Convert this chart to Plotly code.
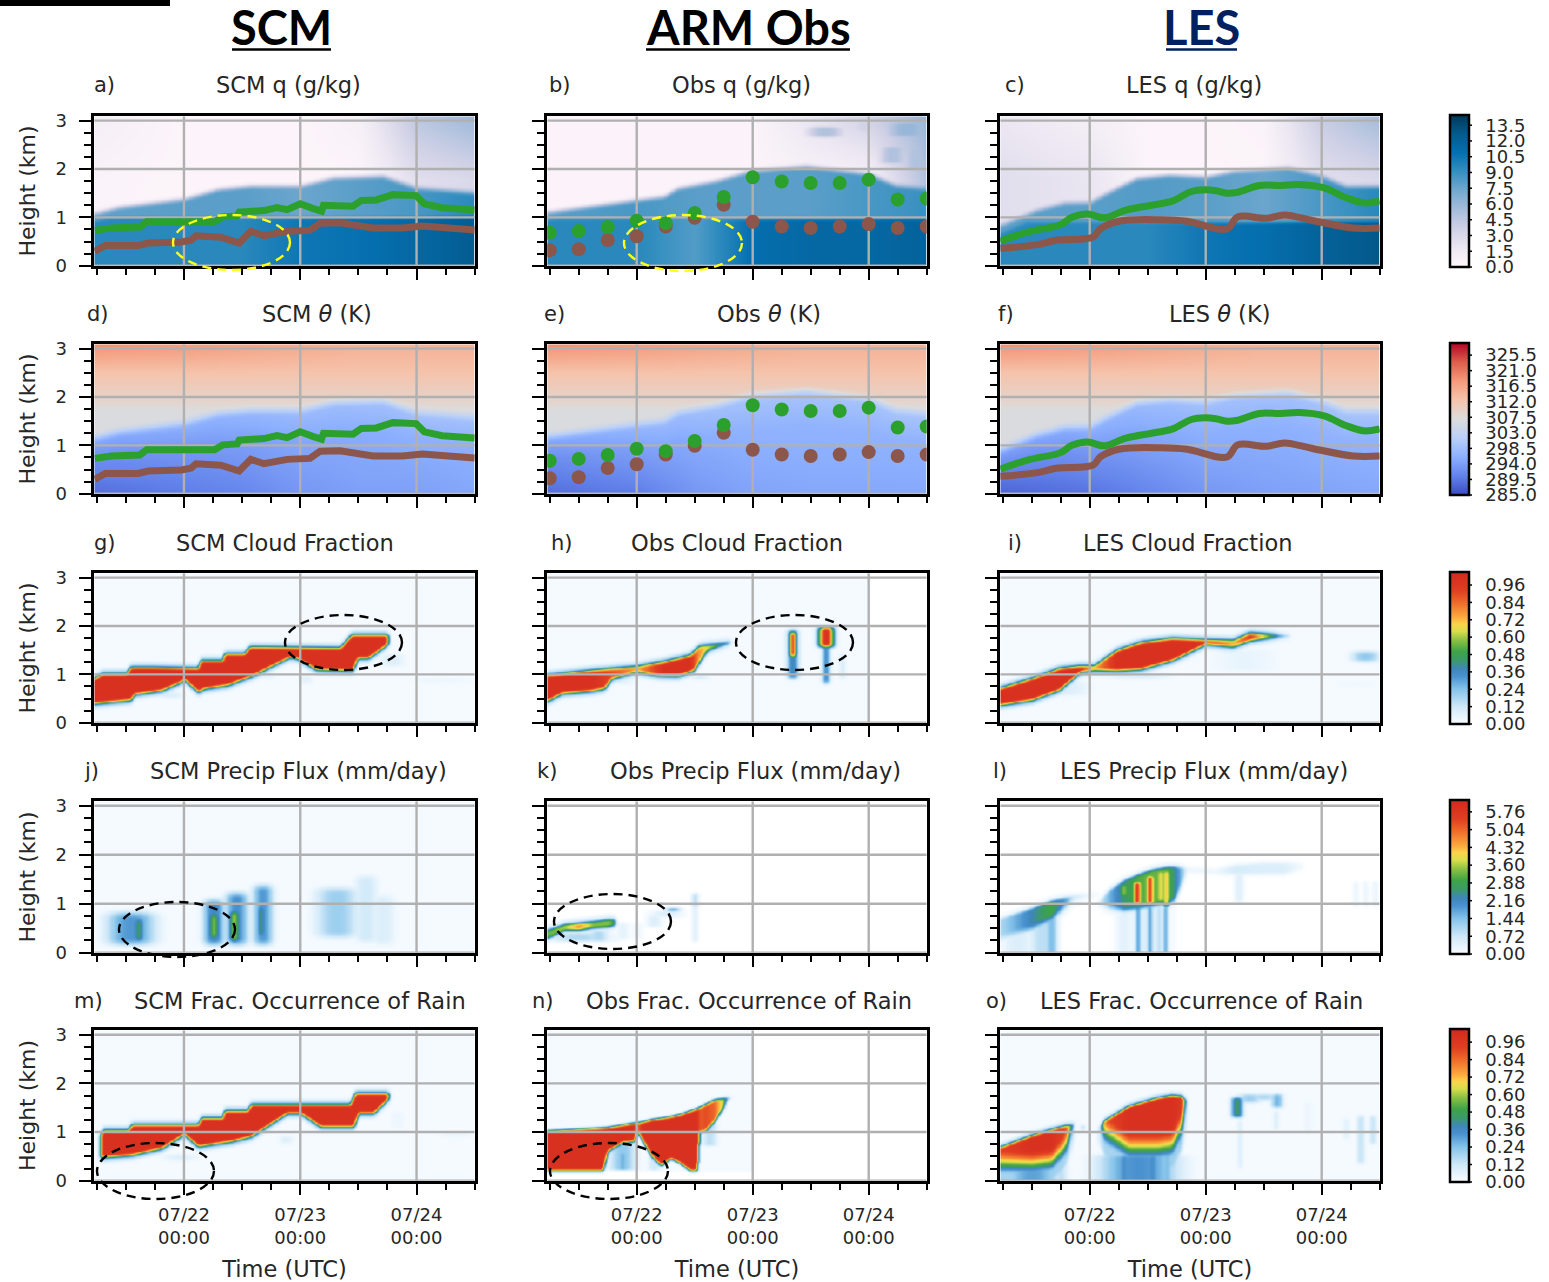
import numpy as np
import plotly.graph_objects as go

W, H = 1549, 1282

# ---------- Data (time: hours from 07/22 00:00, height: km) ----------
x_tick_vals = [0, 24, 48]
x_tick_text = ["07/22<br>00:00", "07/23<br>00:00", "07/24<br>00:00"]
x_minor_vals = [-18, -12, -6, 6, 12, 18, 30, 36, 42, 54, 60]
y_tick_vals = [0, 1, 2, 3]
y_minor_vals = [0.25, 0.5, 0.75, 1.25, 1.5, 1.75, 2.25, 2.5, 2.75]

titles = ["SCM q (g/kg)", "Obs q (g/kg)", "LES q (g/kg)",
          "SCM <i>θ</i> (K)", "Obs <i>θ</i> (K)", "LES <i>θ</i> (K)",
          "SCM Cloud Fraction", "Obs Cloud Fraction", "LES Cloud Fraction",
          "SCM Precip Flux (mm/day)", "Obs Precip Flux (mm/day)", "LES Precip Flux (mm/day)",
          "SCM Frac. Occurrence of Rain", "Obs Frac. Occurrence of Rain", "LES Frac. Occurrence of Rain"]
letters = ["a)", "b)", "c)", "d)", "e)", "f)", "g)", "h)", "i)", "j)", "k)", "l)", "m)", "n)", "o)"]

q_ticks = [0, 1.5, 3, 4.5, 6, 7.5, 9, 10.5, 12, 13.5]
theta_ticks = [285, 289.5, 294, 298.5, 303, 307.5, 312, 316.5, 321, 325.5]
frac_ticks = [0, 0.12, 0.24, 0.36, 0.48, 0.60, 0.72, 0.84, 0.96]
precip_ticks = [0, 0.72, 1.44, 2.16, 2.88, 3.60, 4.32, 5.04, 5.76]

# boundary lines
scm_green_t = [-18.4, -14.9, -9.1, -7.7, 6.3, 8, 11, 11.4, 16.5, 19.2, 21.3, 24, 26.7, 28.4, 28.8, 34.9, 36.6, 39.7, 43.1, 47.9, 49.6, 53.3, 60]
scm_green_h = [0.73, 0.78, 0.8, 0.91, 0.91, 1.01, 1.03, 1.11, 1.14, 1.2, 1.16, 1.28, 1.18, 1.13, 1.25, 1.23, 1.35, 1.36, 1.47, 1.45, 1.28, 1.2, 1.15]
scm_brown_t = [-18.4, -16.2, -9.4, -7.4, -0.5, 1.5, 2.5, 7.6, 11.4, 12.4, 13.8, 16.5, 21.3, 26, 28.1, 32.2, 34.9, 39, 45.1, 49.2, 60]
scm_brown_h = [0.3, 0.42, 0.42, 0.47, 0.49, 0.53, 0.62, 0.59, 0.47, 0.57, 0.71, 0.62, 0.71, 0.73, 0.88, 0.89, 0.86, 0.78, 0.78, 0.82, 0.74]
les_green_t = [-18.5, -12.7, -6, -3.7, -0.4, 3, 7.5, 13.4, 17.2, 20.9, 23.9, 26.1, 28.4, 30.6, 35.1, 39.6, 43.3, 48.5, 53, 56.7, 60]
les_green_h = [0.51, 0.7, 0.85, 1.0, 1.07, 0.99, 1.15, 1.26, 1.34, 1.53, 1.57, 1.55, 1.5, 1.52, 1.66, 1.66, 1.68, 1.61, 1.41, 1.3, 1.34]
les_brown_t = [-18.5, -11.2, -6.7, 0.7, 2.2, 6, 14.9, 20.1, 28.4, 30.6, 36.6, 40.3, 46.3, 54.5, 60]
les_brown_h = [0.36, 0.43, 0.53, 0.59, 0.76, 0.92, 0.95, 0.92, 0.76, 1.01, 0.98, 1.05, 0.93, 0.78, 0.78]
obs_t = [-18, -12, -6, 0, 6, 12, 18, 24, 30, 36, 42, 48, 54, 60]
obs_green_h = [0.68, 0.72, 0.80, 0.93, 0.88, 1.09, 1.42, 1.83, 1.74, 1.71, 1.71, 1.78, 1.37, 1.39]
obs_brown_h = [0.32, 0.34, 0.53, 0.61, 0.81, 0.99, 1.26, 0.91, 0.81, 0.78, 0.81, 0.86, 0.78, 0.81]

# moist layer tops
a_top_t = [-18, -13.5, 0, 7, 13.8, 24, 30.8, 41, 47.9, 60]
a_top_h = [1.03, 1.15, 1.32, 1.52, 1.59, 1.59, 1.76, 1.79, 1.55, 1.45]
b_top_t = [-18.3, 0, 5.6, 8.4, 16.6, 23.4, 35, 48, 53.5, 60]
b_top_h = [1.05, 1.3, 1.37, 1.54, 1.7, 1.9, 2.0, 1.84, 1.6, 1.53]
c_top_t = [-18.3, -11.2, -5.2, 0, 3.7, 9.7, 16.4, 24, 29.8, 41, 47.8, 53, 60]
c_top_h = [0.78, 1.08, 1.24, 1.25, 1.45, 1.75, 1.82, 1.78, 1.9, 1.97, 1.8, 1.58, 1.58]

layer_t = [-18, 0, 12, 24, 36, 48, 60]
a_sfc = [9.5, 9.5, 9.5, 10.5, 10.8, 11.5, 12.5]
a_mid = [7.8, 8, 8, 7.5, 8, 8.5, 9.5]
a_ft_lo = [0.5, 0.3, 0.3, 0.3, 0.3, 2.5, 3]
a_ft_hi = [1.0, 0.3, 0.3, 0.3, 0.8, 4.5, 5.8]
b_sfc = [9.5, 9.5, 8.2, 11, 11.5, 11.5, 12]
b_mid = [8, 8.5, 8, 8, 8, 8.5, 9]
b_ft_lo = [0.4, 0.4, 0.4, 0.4, 0.6, 0.8, 5]
b_ft_hi = [0.4, 0.4, 0.4, 0.4, 2, 3.5, 6]
b_cells = [(39, 4.5, 2.6, 2.95, 5), (47, 3, 2.7, 3.1, 3.5), (53, 3.5, 2.05, 2.55, 5), (56, 6, 2.6, 3.05, 6), (58, 4, 1.9, 2.5, 5)]
c_sfc = [9.5, 9.5, 9.5, 10.5, 11, 12, 12.8]
c_mid = [8, 8, 8.2, 8, 7.5, 8.5, 9.5]
c_ft_lo = [2.5, 2, 0.3, 0.3, 0.3, 2.5, 3]
c_ft_hi = [1.8, 1.0, 0.3, 0.3, 0.5, 4, 5.5]

d_sfc = [288.5, 290, 291, 293, 294, 294, 295]
d_mid = [292, 293, 294, 295, 295.5, 296, 296]
e_sfc = [288.5, 290, 293, 294.5, 295, 295, 295]
e_mid = [292, 294, 295.5, 296.5, 296.5, 296.5, 296.5]
f_sfc = [287.5, 289, 291, 293, 294, 294.5, 295]
f_mid = [291, 293, 295, 296, 296, 296.5, 296.5]
theta_3km = [319, 318, 317, 316, 315, 315, 315]

# cloud / rain layers: time, base, top, peak; cells: centre, half width, bottom, top, peak
g_t = [-18.6, -16.9, -11.8, -11.1, -6.2, 2.9, 3.4, 8, 8.3, 12.4, 13.6, 32.2, 34.6, 42.1]
g_top = [0.94, 1.05, 1.05, 1.18, 1.18, 1.16, 1.32, 1.32, 1.46, 1.46, 1.6, 1.58, 1.85, 1.85]
g_b_t = [-18.6, -11, -10.3, -4.6, -0.5, 0, 2.9, 4.2, 9, 14, 19, 21.8, 23.2, 27.3, 34.8, 35.8, 38, 42.1]
g_base = [0.37, 0.44, 0.56, 0.64, 0.82, 0.87, 0.61, 0.68, 0.75, 0.94, 1.19, 1.33, 1.31, 1.07, 1.05, 1.31, 1.31, 1.6]
g_cells = [(-3, 3, 0.45, 0.7, 0.1), (25, 1.5, 0.75, 1.05, 0.07), (43, 2.5, 1.1, 1.5, 0.08), (53, 7, 0.78, 0.98, 0.07), (17, 2, 0.85, 1.1, 0.08)]

h_t = [-18.6, -9, 0, 5.6, 11, 13, 19, 19.5]
h_top = [1.02, 1.12, 1.21, 1.3, 1.43, 1.63, 1.71, 1.71]
h_peak = [1, 1, 0.75, 1, 1, 0.75, 0.45, 0.3]
h_b_t = [-18.6, -15.5, -9.5, -6.7, -5.2, 0, 4.2, 8.4, 11.8, 14.5, 19.5]
h_b_h = [0.42, 0.58, 0.63, 0.68, 0.88, 1.02, 0.95, 0.94, 1.05, 1.46, 1.63]
h_cells = [(32.2, 1.2, 0.85, 2.0, 0.38), (32.2, 0.75, 1.3, 1.95, 0.95), (39.1, 0.8, 0.75, 1.95, 0.36), (39.1, 1.6, 1.5, 2.05, 1.0),
           (42.5, 0.6, 0.85, 1.5, 0.1), (-3, 3, 0.75, 0.95, 0.1), (13, 2, 0.85, 1.05, 0.15)]

i_t = [-18.6, -12, -6.3, -2, 0.9, 5.5, 10.6, 17, 24, 29.6, 33, 37.8, 41.5]
i_top = [0.75, 0.95, 1.16, 1.21, 1.22, 1.53, 1.7, 1.78, 1.75, 1.75, 1.89, 1.88, 1.82]
i_base = [0.34, 0.44, 0.65, 1.02, 1.05, 1.05, 1.08, 1.26, 1.6, 1.53, 1.67, 1.72, 1.78]
i_peak = [1, 1, 1, 1, 0.75, 1, 1, 1, 1, 0.72, 0.95, 0.5, 0.28]
i_cells = [(57, 3, 1.2, 1.55, 0.22), (-5, 5, 0.5, 0.95, 0.08), (49, 9, 0.8, 0.95, 0.05), (32, 7, 1.0, 1.6, 0.05), (55, 5, 0.72, 0.9, 0.07), (10, 7, 0.85, 1.1, 0.1)]

j_cells = [(-11, 5, 0.05, 0.95, 1.9), (-9.4, 1.1, 0.1, 0.85, 2.7), (6.1, 2.2, 0.05, 1.2, 2.2), (6.1, 1.1, 0.15, 0.95, 3.4),
           (10.8, 2.4, 0.05, 1.35, 2.0), (10.3, 1.1, 0.1, 1.0, 3.6), (16.2, 2.1, 0.05, 1.5, 1.9), (15.8, 0.7, 0.2, 1.1, 2.8),
           (31.5, 4.4, 0.2, 1.45, 1.2), (37.5, 2.4, 0.1, 1.7, 0.65), (41, 2.6, 0.05, 1.3, 0.5)]

k_t = [-18.6, -15, -12, -9, -6, -4.5]
k_base = [0.28, 0.45, 0.46, 0.5, 0.52, 0.55]
k_top = [0.48, 0.6, 0.62, 0.66, 0.7, 0.7]
k_peak = [3.2, 3.6, 4.6, 3.4, 3.4, 3.0]
k_cells = [(-12, 6, 0.2, 0.45, 1.0), (-8, 2, 0.2, 0.5, 1.0), (-3, 1.2, 0.25, 0.65, 0.35), (0, 1, 0.25, 0.65, 0.2),
           (3.5, 1.4, 0.5, 0.8, 0.5), (7.4, 1.5, 0.82, 0.95, 2.4), (6, 3, 0.7, 0.9, 0.5), (12, 0.5, 0.2, 1.25, 0.5), (12, 0.6, 0.9, 1.25, 1.0)]

l1_t = [-18.6, -12, -8, -5, -3.5, 0, 2]
l1_top = [0.72, 0.93, 1.08, 1.15, 1.18, 1.2, 1.2]
l1_base = [0.2, 0.4, 0.6, 0.85, 1.0, 1.1, 1.15]
l1_peak = [1.0, 2.3, 3.0, 1.8, 0.9, 0.5, 0.3]
l2_t = [1.5, 4, 7, 10, 13, 16, 17.5, 20]
l2_top = [1.02, 1.3, 1.5, 1.62, 1.72, 1.77, 1.78, 1.75]
l2_base = [0.95, 0.85, 0.8, 0.85, 0.9, 0.95, 1.0, 1.6]
l2_peak = [0.4, 1.6, 2.6, 3.1, 3.2, 3.2, 2.5, 0.6]
l3_t = [20, 26, 30, 36, 40, 44]
l3_top = [1.75, 1.72, 1.8, 1.85, 1.85, 1.85]
l3_base = [1.65, 1.6, 1.6, 1.6, 1.6, 1.7]
l3_peak = [0.3, 0.2, 0.6, 0.5, 0.5, 0.1]
l_cells = [(-15, 3, 0, 0.7, 0.5), (-10, 2.5, 0, 0.8, 0.9), (-8, 1.2, 0, 0.85, 1.5),
           (9.7, 0.7, 0.95, 1.5, 6.3), (12.4, 0.7, 0.95, 1.62, 6.0), (14.6, 0.6, 1.0, 1.72, 4.4), (15.8, 0.5, 0.9, 1.72, 4.8), (7, 0.9, 1.1, 1.45, 3.6),
           (9.9, 0.4, 0, 1.0, 2.4), (12.4, 0.4, 0, 1, 2.4), (15.6, 0.4, 0, 1, 2.2), (14.3, 0.35, 0, 1, 1.2), (7, 1.5, 0, 1, 0.4), (12, 4, 0, 1, 0.5),
           (30.8, 0.8, 1.0, 1.7, 0.45), (55, 0.5, 0.9, 1.5, 0.25), (57, 0.5, 0.9, 1.5, 0.25), (59, 0.5, 0.9, 1.5, 0.3)]

m_t = [-17.3, -16.6, -11.5, -10.8, 2.9, 3.6, 8, 8.3, 13.1, 13.8, 34.3, 35.3, 42.2]
m_top = [0.98, 1.07, 1.07, 1.18, 1.18, 1.32, 1.32, 1.47, 1.47, 1.6, 1.6, 1.83, 1.83]
m_b_t = [-17.3, -10.8, -4.6, 0, 2.9, 9.7, 13.8, 21.3, 24, 28.2, 35, 36, 39.1, 42.2]
m_base = [0.45, 0.5, 0.64, 0.93, 0.68, 0.78, 0.88, 1.36, 1.36, 1.08, 1.08, 1.36, 1.36, 1.66]
m_cells = [(-1, 4, 0.35, 0.62, 0.08), (21, 1.5, 0.7, 1.0, 0.08), (29, 5, 0.9, 1.1, 0.05), (56, 4, 0.85, 1.05, 0.08), (44, 1.5, 1.0, 1.5, 0.04)]

n_t = [-18.6, -7, -6, -3, -0.5, 0, 1, 3, 5, 7, 9, 11, 12.5, 13, 14, 16, 18, 18.5, 19.5]
n_base = [0.2, 0.2, 0.6, 0.78, 0.8, 1.0, 0.85, 0.5, 0.3, 0.45, 0.35, 0.2, 0.2, 1.0, 1.0, 1.2, 1.5, 1.65, 1.7]
n_top = [1.04, 1.1, 1.11, 1.16, 1.2, 1.21, 1.22, 1.27, 1.3, 1.33, 1.38, 1.45, 1.5, 1.53, 1.58, 1.68, 1.72, 1.73, 1.72]
n_peak = [1, 1, 1, 1, 1, 0.8, 1, 1, 1, 1, 1, 1, 1, 0.85, 0.9, 0.85, 0.6, 0.4, 0.3]
n_cells = [(-3, 2.7, 0.2, 0.8, 0.22), (-3, 0.6, 0.2, 0.6, 0.3), (3.5, 1.2, 0.2, 0.6, 0.12), (15, 1.5, 0.7, 1.2, 0.15)]

o1_t = [-18.6, -12, -8, -5, -3.2]
o1_top = [0.71, 0.95, 1.07, 1.15, 1.18]
o1_base = [0.0, 0.0, 0.05, 0.35, 0.95]
o1_peak = [0.92, 1, 1, 0.9, 0.5]
o2_t = [1.6, 3, 8, 14, 17, 19, 20]
o2_top = [1.02, 1.25, 1.55, 1.72, 1.77, 1.75, 1.65]
o2_base = [0.9, 0.55, 0.25, 0.25, 0.3, 0.7, 1.3]
o2_peak = [0.5, 0.9, 1, 1, 1, 0.95, 0.5]
o_cells = [(10, 8, 0, 0.6, 0.33), (7, 0.5, 0, 0.6, 0.38), (13, 0.5, 0, 0.6, 0.38), (16, 0.4, 0, 0.65, 0.3),
           (-12, 5.5, 0, 0.35, 0.3), (-6, 1.2, 0, 0.6, 0.15), (-1.5, 0.5, 1, 1.2, 0.2),
           (30.4, 1.2, 1.25, 1.78, 0.46), (33, 2.5, 1.55, 1.85, 0.2), (38.7, 1.2, 1.45, 1.85, 0.27), (36, 3, 1.6, 1.85, 0.18),
           (31, 0.4, 0.2, 1.3, 0.1), (38.5, 0.5, 1.0, 1.5, 0.1), (45, 1, 0.9, 1.7, 0.04), (56, 0.8, 0.3, 1.4, 0.14), (58.5, 0.7, 0.7, 1.4, 0.14), (53, 0.7, 0.8, 1.35, 0.07)]

# ---------- Styling ----------
FRAC_MAX, PRECIP_MAX, Q_MAX, TH_MIN, TH_MAX = 1.05, 6.24, 14.47, 285, 329
YTOP = 3.09
XR = [-18.5, 60]
col_px = [(93, 476), (546, 928), (999, 1381)]
row_px = [(115, 267), (343, 495), (572, 724), (800, 954), (1029, 1182)]
bar_px = (1450, 1469)
INSET = 1.3
TXT = "#262626"
FONT = "DejaVu Sans"

q_scale = [[0, "#fff7fb"], [0.125, "#ece7f2"], [0.25, "#d0d1e6"], [0.375, "#a6bddb"], [0.5, "#74a9cf"],
           [0.625, "#3690c0"], [0.75, "#0570b0"], [0.875, "#045a8d"], [1, "#023858"]]
th_scale = [[0, "#3b4cc0"], [0.125, "#6282ea"], [0.25, "#8db0fe"], [0.375, "#b9d0f9"], [0.5, "#dddcdc"],
            [0.625, "#f5c4ac"], [0.75, "#f49a7b"], [0.875, "#dc5d4a"], [1, "#b40426"]]
frac_stops = [(0, "#ffffff"), (0.012, "#f6fbff"), (0.12, "#cfe8f8"), (0.24, "#85c3ea"), (0.33, "#4a92cf"), (0.38, "#3f86bb"),
              (0.44, "#3c9a6a"), (0.50, "#3ea347"), (0.58, "#8cc144"), (0.64, "#d8de4b"), (0.69, "#fbd44a"), (0.74, "#fba83e"),
              (0.84, "#ee6a2a"), (0.92, "#e03f22"), (1.05, "#d3281f")]
frac_scale = [[v / FRAC_MAX, c] for v, c in frac_stops]

# ---------- Field assembly ----------
T_axis = np.linspace(-20, 61.5, 336)
Y_axis = np.linspace(-0.06, 3.16, 198)
TT, YY = np.meshgrid(T_axis, Y_axis)


def sm(a):
    a = np.clip(a, 0, 1)
    return a * a * (3 - 2 * a)


def soften(z, passes=1):
    k = np.array([1, 2, 3, 2, 1], dtype=float)
    k /= k.sum()
    for _ in range(passes):
        pz = np.pad(z, ((2, 2), (0, 0)), mode="edge")
        z = np.apply_along_axis(lambda c: np.convolve(c, k, mode="valid"), 0, pz)
        pz = np.pad(z, ((0, 0), (2, 2)), mode="edge")
        z = np.apply_along_axis(lambda c: np.convolve(c, k, mode="valid"), 1, pz)
    return z


def add_band(z, t, base, top, peak, eb=0.13, et=0.13, tb=None, halo=0.2):
    b = np.interp(TT, tb if tb is not None else t, base) - 0.04
    tp = np.interp(TT, t, top) + 0.04
    p = np.interp(TT, t, peak) if np.ndim(peak) else peak
    left = 1.0 if t[0] <= -18.5 else sm((TT - t[0] + 0.5) / 1.0)
    right = sm((t[-1] + 0.5 - TT) / 1.0)
    v = p * np.minimum(sm((YY - b) / eb), sm((tp - YY) / et)) * left * right
    glow = halo * p * np.minimum(sm((YY - b + 0.09) / 0.14), sm((tp + 0.09 - YY) / 0.14)) * left * right
    return np.maximum(z, np.maximum(v, glow))


def add_cells(z, cells, ey=0.14):
    for tc, tw, yb, yt, pk in cells:
        low = np.ones_like(YY) if yb <= 0 else sm((YY - yb) / ey)
        v = pk * np.exp(-(np.abs(TT - tc) / tw) ** 2.5) * low * sm((yt - YY) / ey)
        z = np.maximum(z, v)
    return z


def moist_field(top_t, top_h, sfc, mid, lo, hi, inner=1.0):
    top = np.interp(TT, top_t, top_h)
    s, m = np.interp(TT, layer_t, sfc), np.interp(TT, layer_t, mid)
    l, h = np.interp(TT, layer_t, lo), np.interp(TT, layer_t, hi)
    inn = np.minimum(inner, top - 0.1)
    bl = s + (m - s) * sm((YY - inn) / 0.12 + 0.5)
    ft = l + (h - l) * np.clip((YY - 1.8) / 1.25, 0, 1)
    return bl + (ft - bl) * sm((YY - top + 0.02) / 0.18)


def theta_field(top_t, top_h, sfc, mid):
    top = np.interp(TT, top_t, top_h)
    s, m = np.interp(TT, layer_t, sfc), np.interp(TT, layer_t, mid)
    t3 = np.interp(TT, layer_t, theta_3km)
    yp = np.maximum(YY, 0)
    bl = s + (m - s) * np.clip(yp / (0.7 * top), 0, 1) + 2.5 * np.clip((yp - 0.7 * top) / (0.3 * top), 0, 1)
    ft = np.where(YY < 1.7, 306.5, np.where(YY < 2, 306.5 + (YY - 1.7) / 0.3 * 3, np.where(YY < 2.5, 309.5 + (YY - 2) / 0.5 * 3, 312.5 + (YY - 2.5) / 0.6 * (t3 - 312.5))))
    return bl + (ft - bl) * sm((YY - top) / 0.28)


AZ_F = 0.018
AZ_P = 0.018 * PRECIP_MAX / FRAC_MAX


def azure(val, tmax=999, ymin=-1):
    return np.where((TT <= tmax) & (YY >= ymin), val, 0.0)


fields = {}
fields[0] = moist_field(a_top_t, a_top_h, a_sfc, a_mid, a_ft_lo, a_ft_hi)
fields[1] = add_cells(moist_field(b_top_t, b_top_h, b_sfc, b_mid, b_ft_lo, b_ft_hi, 0.97), b_cells, 0.12)
fields[2] = moist_field(c_top_t, c_top_h, c_sfc, c_mid, c_ft_lo, c_ft_hi, 0.9)
fields[3] = theta_field(a_top_t, a_top_h, d_sfc, d_mid)
fields[4] = theta_field(b_top_t, b_top_h, e_sfc, e_mid)
fields[5] = theta_field(c_top_t, c_top_h, f_sfc, f_mid)

z = add_band(azure(AZ_F), g_t, g_base, g_top, 1.0, tb=g_b_t)
fields[6] = add_cells(z, g_cells)

z = add_band(azure(AZ_F, tmax=48), h_t, h_b_h, h_top, h_peak, tb=h_b_t)
fields[7] = add_cells(z, h_cells)

z = add_band(azure(AZ_F), i_t, i_base, i_top, i_peak)
fields[8] = add_cells(z, i_cells)

fields[9] = add_cells(azure(AZ_P), j_cells, 0.25)

z = add_band(np.zeros_like(TT), k_t, k_base, k_top, k_peak, 0.09, 0.09)
fields[10] = add_cells(z, k_cells, 0.08)

z = np.zeros_like(TT)
z = add_band(z, l1_t, l1_base, l1_top, l1_peak, 0.25, 0.1, halo=0.1)
z = add_band(z, l2_t, l2_base, l2_top, l2_peak, 0.2, 0.1, halo=0.1)
z = add_band(z, l3_t, l3_base, l3_top, l3_peak, 0.1, 0.1, halo=0.1)
fields[11] = add_cells(z, l_cells, 0.1)

z = add_band(azure(AZ_F), m_t, m_base, m_top, 1.0, tb=m_b_t)
fields[12] = add_cells(z, m_cells)

z = add_band(azure(AZ_F, tmax=24, ymin=0.2), n_t, n_base, n_top, n_peak, 0.1, 0.1, halo=0.0)
fields[13] = add_cells(z, n_cells, 0.05)

z = add_band(azure(AZ_F), o1_t, o1_base, o1_top, o1_peak, 0.7, 0.1)
z = add_band(z, o2_t, o2_base, o2_top, o2_peak, 0.85, 0.1)
fields[14] = add_cells(z, o_cells, 0.12)

# ---------- Figure ----------
fig = go.Figure()
layout = dict(width=W, height=H, margin=dict(l=0, r=0, t=0, b=0, pad=0, autoexpand=False), paper_bgcolor="white", plot_bgcolor="white",
              showlegend=False, font=dict(family=FONT, color=TXT, size=18))
annotations, shapes = [], []


def px_x(p):
    return p / W


def px_y(p):
    return 1 - p / H


row_axes = ["coloraxis", "coloraxis2", "coloraxis3", "coloraxis4", "coloraxis5"]
grid_x, grid_y = [], []
for v in x_tick_vals:
    grid_x += [v, v, None]
    grid_y += [0, YTOP, None]
for v in y_tick_vals:
    grid_x += [XR[0], XR[1], None]
    grid_y += [v, v, None]

for idx in range(15):
    r, c = idx // 3, idx % 3
    n = idx + 1
    xa, ya = ("x", "y") if n == 1 else (f"x{n}", f"y{n}")
    fig.add_trace(go.Heatmap(x=T_axis, y=Y_axis, z=soften(fields[idx]).astype("float32"), coloraxis=row_axes[r], zsmooth="best",
                             xaxis=xa, yaxis=ya, hoverinfo="skip"))
    fig.add_trace(go.Scatter(x=grid_x, y=grid_y, mode="lines", line=dict(color="#b0b0b0", width=2.4), xaxis=xa, yaxis=ya, hoverinfo="skip"))
    if r < 2:
        if c == 0:
            fig.add_trace(go.Scatter(x=scm_green_t, y=scm_green_h, mode="lines", line=dict(color="#2ca02c", width=7), xaxis=xa, yaxis=ya))
            fig.add_trace(go.Scatter(x=scm_brown_t, y=scm_brown_h, mode="lines", line=dict(color="#8c564b", width=7), xaxis=xa, yaxis=ya))
        elif c == 2:
            fig.add_trace(go.Scatter(x=les_green_t, y=les_green_h, mode="lines", line=dict(color="#2ca02c", width=7, shape="spline"), xaxis=xa, yaxis=ya))
            fig.add_trace(go.Scatter(x=les_brown_t, y=les_brown_h, mode="lines", line=dict(color="#8c564b", width=7, shape="spline"), xaxis=xa, yaxis=ya))
        else:
            fig.add_trace(go.Scatter(x=obs_t, y=obs_brown_h, mode="markers", marker=dict(color="#8c564b", size=14), xaxis=xa, yaxis=ya))
            fig.add_trace(go.Scatter(x=obs_t, y=obs_green_h, mode="markers", marker=dict(color="#2ca02c", size=14), xaxis=xa, yaxis=ya))

    suffix = "" if n == 1 else str(n)
    layout["xaxis" + suffix] = dict(
        domain=[px_x(col_px[c][0] + INSET), px_x(col_px[c][1] - INSET)], anchor=ya, range=XR, showgrid=False, zeroline=False, automargin=False,
        showline=True, mirror=True, linecolor="black", linewidth=2.5, ticks="outside", ticklen=12, tickwidth=2.2, tickcolor="black",
        tickmode="array", tickvals=x_tick_vals, ticktext=x_tick_text, showticklabels=(r == 4), ticklabelstandoff=4,
        tickfont=dict(family=FONT, size=18, color=TXT),
        minor=dict(tickmode="array", tickvals=x_minor_vals, ticks="outside", ticklen=7, tickwidth=1.8, tickcolor="black", showgrid=False),
        title=dict(text="Time (UTC)" if r == 4 else "", font=dict(family=FONT, size=22.5, color=TXT), standoff=19),
    )
    layout["yaxis" + suffix] = dict(
        domain=[px_y(row_px[r][1] - INSET), px_y(row_px[r][0] + INSET)], anchor=xa, range=[0, YTOP], showgrid=False, zeroline=False, automargin=False,
        showline=True, mirror=True, linecolor="black", linewidth=2.5, ticks="outside", ticklen=13, tickwidth=2.2, tickcolor="black",
        tickmode="array", tickvals=y_tick_vals, showticklabels=(c == 0), tickfont=dict(family=FONT, size=18, color=TXT), ticklabelstandoff=8,
        minor=dict(tickmode="array", tickvals=y_minor_vals, ticks="outside", ticklen=8, tickwidth=1.8, tickcolor="black", showgrid=False),
        title=dict(text="Height (km)" if c == 0 else "", font=dict(family=FONT, size=22, color=TXT), standoff=14),
    )

# colour bars
bar_defs = [(q_scale, 0, Q_MAX, q_ticks, ".1f"), (th_scale, TH_MIN, TH_MAX, theta_ticks, ".1f"), (frac_scale, 0, FRAC_MAX, frac_ticks, ".2f"),
            (frac_scale, 0, PRECIP_MAX, precip_ticks, ".2f"), (frac_scale, 0, FRAC_MAX, frac_ticks, ".2f")]
for r, (scale, lo, hi, ticks, fmt) in enumerate(bar_defs):
    top, bot = row_px[r]
    layout[row_axes[r]] = dict(
        colorscale=scale, cmin=lo, cmax=hi,
        colorbar=dict(x=px_x(bar_px[0]), xanchor="left", xpad=0, y=px_y(bot), yanchor="bottom", ypad=0, len=(bot - top) / H, lenmode="fraction",
                      thickness=bar_px[1] - bar_px[0], thicknessmode="pixels", outlinecolor="black", outlinewidth=2.5, borderwidth=0,
                      tickmode="array", tickvals=ticks, tickformat=fmt, ticks="outside", ticklen=12, tickwidth=1, tickcolor="rgba(0,0,0,0)",
                      tickfont=dict(family=FONT, size=18, color=TXT)))
    for v in ticks:
        py = bot - (v - lo) / (hi - lo) * (bot - top)
        shapes.append(dict(type="line", xref="paper", yref="paper", x0=px_x(bar_px[1]), x1=px_x(bar_px[1] + 3), y0=px_y(py), y1=px_y(py), line=dict(color="black", width=1.5)))

# panel titles
title_y = [85, 314, 543, 771, 1001]
letter_x = [104, 560, 1015, 98, 554, 1006, 105, 562, 1015, 91, 547, 1000, 88, 543, 997]
title_x = [288, 741, 1194, 317, 769, 1219, 285, 737, 1187, 298, 755, 1204, 300, 749, 1201]
for i in range(15):
    y = px_y(title_y[i // 3])
    annotations.append(dict(text=letters[i], x=px_x(letter_x[i]), y=y, xref="paper", yref="paper", showarrow=False, xanchor="center", yanchor="middle",
                            font=dict(family=FONT, size=21, color=TXT)))
    annotations.append(dict(text=titles[i], x=px_x(title_x[i]), y=y, xref="paper", yref="paper", showarrow=False, xanchor="center", yanchor="middle",
                            font=dict(family=FONT, size=22.5, color=TXT)))

# column headers
for label, cx, clr, x0, x1 in [("SCM", 281, "black", 232, 331), ("ARM Obs", 748.5, "black", 646, 850), ("LES", 1201.5, "#002060", 1166, 1237)]:
    annotations.append(dict(text=f"<b>{label}</b>", x=px_x(cx), y=px_y(27), xref="paper", yref="paper", showarrow=False, xanchor="center", yanchor="middle",
                            font=dict(family="Lato", size=47, color=clr)))
    shapes.append(dict(type="line", xref="paper", yref="paper", x0=px_x(x0), x1=px_x(x1), y0=px_y(49.5), y1=px_y(49.5), line=dict(color=clr, width=2.6)))

shapes.append(dict(type="rect", xref="paper", yref="paper", x0=0, x1=px_x(170), y0=px_y(6), y1=1, fillcolor="black", line=dict(width=0)))

# highlight ellipses
ellipses = [(173, 290, 215, 270, "#ffff1a"), (624, 742, 215, 271, "#ffff1a"), (285, 402, 615, 670, "black"), (736, 853, 615, 670, "black"),
            (119, 235, 902, 957, "black"), (554, 671, 894, 949, "black"), (97, 214, 1143, 1199, "black"), (550, 668, 1143, 1199, "black")]
for x0, x1, y0, y1, clr in ellipses:
    shapes.append(dict(type="circle", xref="paper", yref="paper", x0=px_x(x0), x1=px_x(x1), y0=px_y(y1), y1=px_y(y0), layer="above",
                       line=dict(color=clr, width=2.4, dash="9px,6px")))

layout["annotations"] = annotations
layout["shapes"] = shapes
fig.update_layout(**layout)
fig.update_traces(showlegend=False)
fig.write_html("out.html", config={"displayModeBar": False}, post_script="document.body.style.margin='0';document.body.style.overflow='hidden';")
